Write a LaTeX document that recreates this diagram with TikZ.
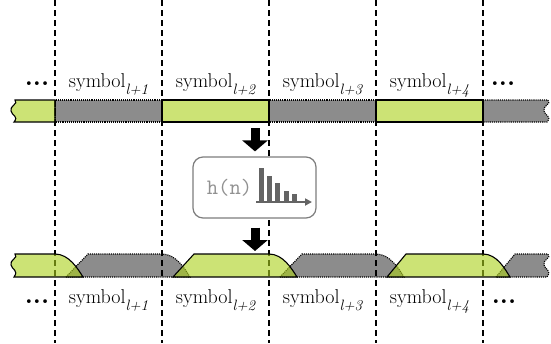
\documentclass[tikz,border=0pt]{standalone}
\usepackage{tikz}
\usepackage{xcolor}
\definecolor{symgreen}{RGB}{170,208,25}
\definecolor{symgray}{RGB}{140,140,140}
\definecolor{boxgray}{RGB}{125,125,125}
\definecolor{bargray}{RGB}{100,100,100}
\usetikzlibrary{positioning, arrows.meta}
\tikzstyle{bigarrow} = [line width=9pt,-{Triangle[length=11pt,width=25pt]}]
\newcommand{\symsub}[1]{\raisebox{-7pt}{\fontsize{15}{15}\selectfont\itshape #1}}

\begin{document}
\begin{tikzpicture}[x=1pt,y=-1pt]
        \tikzstyle{every node}=[font=\fontsize{20}{24}\selectfont, inner sep=0pt]
        \tikzstyle{datasym} = [draw=black, line width=1.1pt, fill=symgreen, fill opacity=0.6]
        \tikzstyle{gapsym} = [draw=black, line width=1.1pt, densely dotted, fill=symgray]
        \tikzstyle{border} = [line width=1.2pt, dash pattern=on 6pt off 4pt]
        \tikzstyle{symname} = [anchor=base]
        \tikzstyle{dots} = [anchor=base, font=\fontsize{26}{30}\selectfont\bfseries]

        \useasboundingbox (0,0) rectangle (551,343);
        \clip (0,0) rectangle (551,343);

        % sent symbols, gaps
        \draw[gapsym] (55,100) rectangle (162,122);
        \draw[gapsym] (269,100) rectangle (376,122);
        \draw[gapsym] (483,100) -- (548,100) .. controls (552,104) and (542,106) .. (544,111)
                .. controls (545,116) and (552,116) .. (547,122) -- (483,122) -- cycle;

        % received symbols, gaps
        \draw[gapsym] (66,277) -- (88,254) -- (162,254) .. controls (176,254) and (185,269) .. (190,277) -- cycle;
        \draw[gapsym] (280,277) -- (302,254) -- (376,254) .. controls (390,254) and (399,269) .. (404,277) -- cycle;
        \draw[gapsym] (496,277) -- (515,254) -- (548,254) .. controls (552,258) and (542,260) .. (544,265)
                .. controls (545,270) and (552,270) .. (547,277) -- cycle;

        % symbol borders
        \foreach \x in {55,162,269,376,483}
            \draw[border] (\x,0) -- (\x,343);

        % sent symbols, data
        \draw[datasym] (15,100) .. controls (19,104) and (9,106) .. (11,111)
                .. controls (12,116) and (19,116) .. (14,122) -- (55,122) -- (55,100) -- cycle;
        \draw[datasym] (162,100) rectangle (269,122);
        \draw[datasym] (376,100) rectangle (483,122);

        % received symbols, data
        \draw[datasym] (15,254) .. controls (19,258) and (9,260) .. (11,265)
                .. controls (12,270) and (19,270) .. (14,277) -- (83,277) .. controls (78,269) and (69,254) .. (55,254) -- cycle;
        \draw[datasym] (173,277) -- (194,254) -- (269,254) .. controls (283,254) and (292,269) .. (297,277) -- cycle;
        \draw[datasym] (387,277) -- (406,254) -- (483,254) .. controls (497,254) and (505,269) .. (510,277) -- cycle;

        % labels
        \node[symname](t1) at (108.5,87) {symbol\symsub{l+1}};
        \node[symname](t2) at (215.5,87) {symbol\symsub{l+2}};
        \node[symname](t3) at (322.5,87) {symbol\symsub{l+3}};
        \node[symname](t4) at (429.5,87) {symbol\symsub{l+4}};
        \node[symname](b1) at (108.5,303) {symbol\symsub{l+1}};
        \node[symname](b2) at (215.5,303) {symbol\symsub{l+2}};
        \node[symname](b3) at (322.5,303) {symbol\symsub{l+3}};
        \node[symname](b4) at (429.5,303) {symbol\symsub{l+4}};

        \node[dots](tdl) at (37,85) {...};
        \node[dots](tdr) at (503,85) {...};
        \node[dots](bdl) at (37,303) {...};
        \node[dots](bdr) at (504,303) {...};

        % channel
        \node[draw=boxgray, fill=white, line width=1.2pt, rounded corners=10pt,
              minimum width=123pt, minimum height=61pt](filt) at (254.5,187.5) {};
        \node[text=boxgray!85, font=\fontsize{22}{26}\selectfont\ttfamily](hn) at (229.5,188) {h(n)};
        \fill[bargray] (259,168) rectangle (264,202);
        \fill[bargray] (267,176) rectangle (272,202);
        \fill[bargray] (275,183) rectangle (280,202);
        \fill[bargray] (284,191) rectangle (289,202);
        \fill[bargray] (292,194) rectangle (297,202);
        \draw[bargray, line width=2pt, -{Triangle[length=7pt,width=7pt]}] (256,202) -- (312,202);

        \coordinate (in) at (255,128);
        \coordinate (out) at (255,251);
        \draw[bigarrow, shorten >=5pt] (in) -- (filt.north -| in);
        \draw[bigarrow, shorten <=9pt] (filt.south -| out) -- (out);
\end{tikzpicture}
\end{document}
